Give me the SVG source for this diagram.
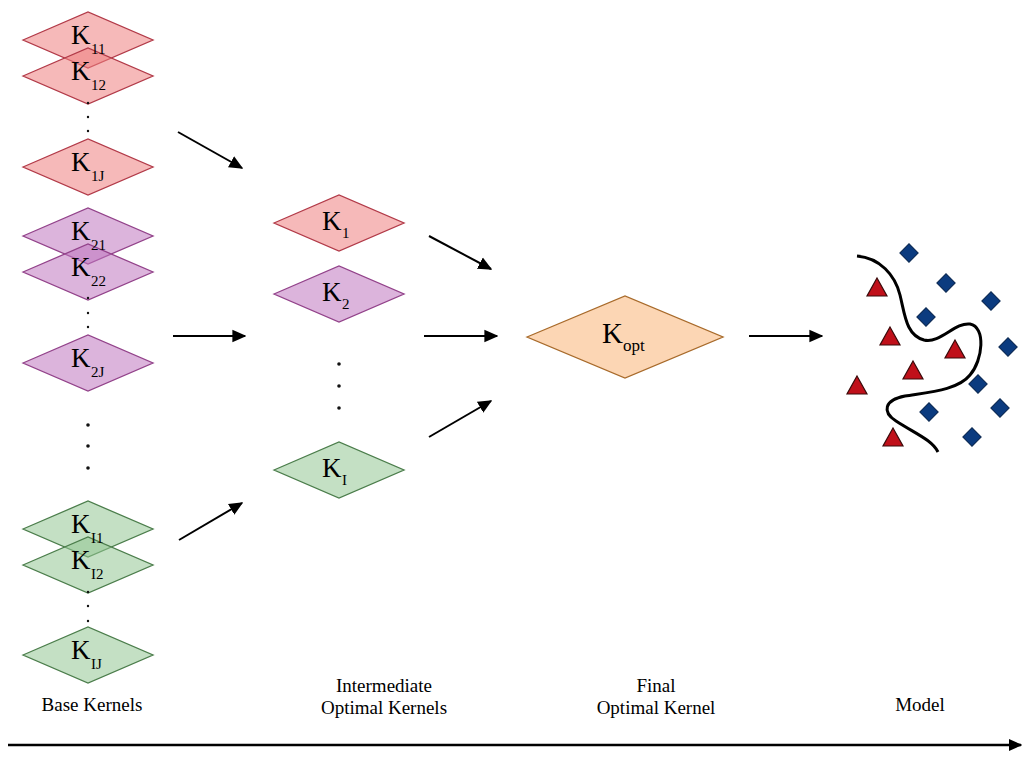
<svg xmlns="http://www.w3.org/2000/svg" width="1023" height="765" viewBox="0 0 1023 765">
<style>
.red{fill:rgb(239,128,128);fill-opacity:0.55;stroke:#b23a48;stroke-width:1.3}
.pur{fill:rgb(191,119,191);fill-opacity:0.55;stroke:#92428a;stroke-width:1.3}
.grn{fill:rgb(148,199,148);fill-opacity:0.55;stroke:#4b7d4b;stroke-width:1.3}
.opt{fill:#fcd6b4;stroke:#a86a2a;stroke-width:1.3}
text{font-family:"Liberation Serif","DejaVu Serif","Times New Roman",serif;fill:#000}
.k{font-size:27px}
.s{font-size:15px}
.lbl{font-size:19px;text-anchor:middle}
.ar{stroke:#000;stroke-width:2;fill:none;marker-end:url(#ah)}
.dot{fill:#111}
.bd{fill:#0b3b7f;stroke:#08264f;stroke-width:1}
.rt{fill:#c0101a;stroke:#3a0a0a;stroke-width:1.2}
</style>
<defs>
<marker id="ah" viewBox="0 0 10 10" refX="9" refY="5" markerWidth="7" markerHeight="7" orient="auto" markerUnits="strokeWidth">
<path d="M0,0.5 L10,5 L0,9.5 z" fill="#000"/>
</marker>
<marker id="ah2" viewBox="0 0 10 10" refX="9" refY="5" markerWidth="5.5" markerHeight="5.5" orient="auto" markerUnits="strokeWidth">
<path d="M0,0.5 L10,5 L0,9.5 z" fill="#000"/>
</marker>
<polygon id="dm" points="-65,0 0,-28 65,0 0,28"/>
</defs>

<g id="base-kernels-1">
<use href="#dm" class="red" x="88" y="40"/>
<use href="#dm" class="red" x="88" y="76"/>
<use href="#dm" class="red" x="88" y="167"/>
<text class="k" x="71" y="44">K</text><text class="s" x="91" y="54">11</text>
<text class="k" x="71" y="80">K</text><text class="s" x="91" y="90">12</text>
<circle class="dot" cx="88" cy="103" r="1.2"/><circle class="dot" cx="88" cy="117" r="1.2"/><circle class="dot" cx="88" cy="131" r="1.2"/>
<text class="k" x="71" y="171">K</text><text class="s" x="91" y="181">1J</text>
</g>

<g id="base-kernels-2">
<use href="#dm" class="pur" x="88" y="236"/>
<use href="#dm" class="pur" x="88" y="272"/>
<use href="#dm" class="pur" x="88" y="363"/>
<text class="k" x="71" y="240">K</text><text class="s" x="91" y="250">21</text>
<text class="k" x="71" y="276">K</text><text class="s" x="91" y="286">22</text>
<circle class="dot" cx="88" cy="298" r="1.2"/><circle class="dot" cx="88" cy="313" r="1.2"/><circle class="dot" cx="88" cy="327" r="1.2"/>
<text class="k" x="71" y="367">K</text><text class="s" x="91" y="377">2J</text>
</g>

<g id="group-dots">
<circle class="dot" cx="88" cy="425" r="1.8"/><circle class="dot" cx="88" cy="446" r="1.8"/><circle class="dot" cx="88" cy="468" r="1.8"/>
</g>

<g id="base-kernels-I">
<use href="#dm" class="grn" x="88" y="529"/>
<use href="#dm" class="grn" x="88" y="565"/>
<use href="#dm" class="grn" x="88" y="655"/>
<text class="k" x="71" y="533">K</text><text class="s" x="91" y="543">I1</text>
<text class="k" x="71" y="569">K</text><text class="s" x="91" y="579">I2</text>
<circle class="dot" cx="88" cy="592" r="1.2"/><circle class="dot" cx="88" cy="606" r="1.2"/><circle class="dot" cx="88" cy="621" r="1.2"/>
<text class="k" x="71" y="659">K</text><text class="s" x="91" y="669">IJ</text>
</g>

<g id="intermediate-K1">
<use href="#dm" class="red" x="339" y="223"/>
<text class="k" x="322" y="230">K</text><text class="s" x="342" y="238">1</text>
</g>
<g id="intermediate-K2">
<use href="#dm" class="pur" x="339" y="294"/>
<text class="k" x="322" y="301">K</text><text class="s" x="342" y="309">2</text>
</g>
<g id="intermediate-dots">
<circle class="dot" cx="339" cy="364" r="1.8"/><circle class="dot" cx="339" cy="386" r="1.8"/><circle class="dot" cx="339" cy="408" r="1.8"/>
</g>
<g id="intermediate-KI">
<use href="#dm" class="grn" x="339" y="470"/>
<text class="k" x="322" y="477">K</text><text class="s" x="342" y="485">I</text>
</g>

<g id="final-Kopt">
<polygon class="opt" points="527,337 625,296 723,337 625,378"/>
<text class="k" x="602" y="343" style="font-size:29px">K</text><text class="s" x="623" y="351" style="font-size:17px">opt</text>
</g>

<g id="model">
<path d="M857,256 C880,258 895,275 900,295 C905,315 906,335 924,340 C940,344 955,322 970,324 C986,327 983,360 970,375 C958,390 930,392 905,396 C884,400 882,412 896,421 C916,434 932,440 938,452" fill="none" stroke="#000" stroke-width="3"/>
<g>
<rect class="bd" x="-6.5" y="-6.5" width="13" height="13" transform="translate(909,253) rotate(45)"/>
<rect class="bd" x="-6.5" y="-6.5" width="13" height="13" transform="translate(946,283) rotate(45)"/>
<rect class="bd" x="-6.5" y="-6.5" width="13" height="13" transform="translate(991,301) rotate(45)"/>
<rect class="bd" x="-6.5" y="-6.5" width="13" height="13" transform="translate(926,317) rotate(45)"/>
<rect class="bd" x="-6.5" y="-6.5" width="13" height="13" transform="translate(1008,347) rotate(45)"/>
<rect class="bd" x="-6.5" y="-6.5" width="13" height="13" transform="translate(978,384) rotate(45)"/>
<rect class="bd" x="-6.5" y="-6.5" width="13" height="13" transform="translate(1000,408) rotate(45)"/>
<rect class="bd" x="-6.5" y="-6.5" width="13" height="13" transform="translate(929,412) rotate(45)"/>
<rect class="bd" x="-6.5" y="-6.5" width="13" height="13" transform="translate(972,437) rotate(45)"/>
</g>
<g>
<polygon class="rt" points="877,278 887,296 867,296"/>
<polygon class="rt" points="890,327 900,345 880,345"/>
<polygon class="rt" points="955,340 965,358 945,358"/>
<polygon class="rt" points="913,361 923,379 903,379"/>
<polygon class="rt" points="857,376 867,394 847,394"/>
<polygon class="rt" points="893,428 903,446 883,446"/>
</g>
</g>

<g id="connectors">
<line class="ar" x1="178" y1="132" x2="242" y2="168"/>
<line class="ar" x1="173" y1="336" x2="245" y2="336"/>
<line class="ar" x1="179" y1="540" x2="242" y2="503"/>
<line class="ar" x1="429" y1="236" x2="491" y2="269"/>
<line class="ar" x1="424" y1="336" x2="497" y2="336"/>
<line class="ar" x1="429" y1="437" x2="491" y2="401"/>
<line class="ar" x1="749" y1="336" x2="822" y2="336"/>
<line x1="8" y1="745" x2="1021" y2="745" stroke="#000" stroke-width="2.5" marker-end="url(#ah2)"/>
</g>

<g id="labels">
<text class="lbl" x="92" y="711">Base Kernels</text>
<text class="lbl" x="384" y="692">Intermediate</text>
<text class="lbl" x="384" y="714">Optimal Kernels</text>
<text class="lbl" x="656" y="692">Final</text>
<text class="lbl" x="656" y="714">Optimal Kernel</text>
<text class="lbl" x="920" y="711">Model</text>
</g>
</svg>
